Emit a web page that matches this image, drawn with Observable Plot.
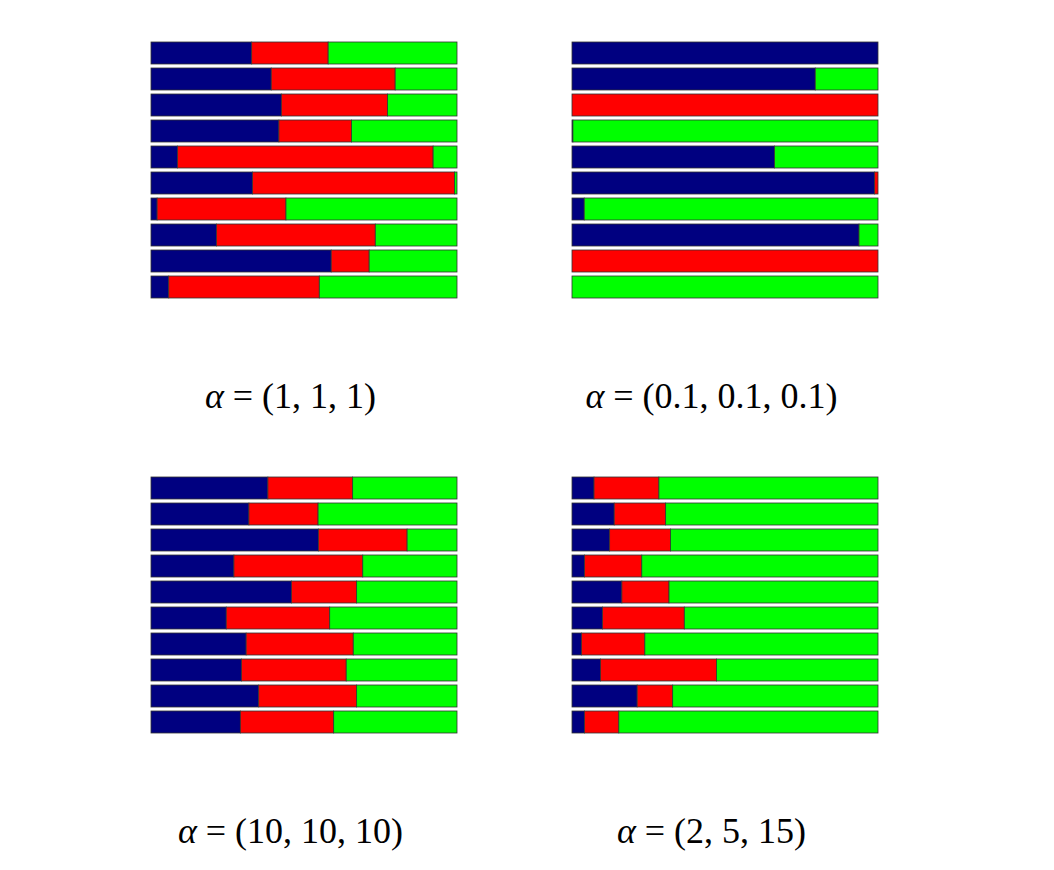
<!DOCTYPE html>
<html>
<head>
<meta charset="utf-8">
<script src="https://cdn.jsdelivr.net/npm/d3@7"></script>
<script src="https://cdn.jsdelivr.net/npm/@observablehq/plot@0.6"></script>
<style>
  html, body { margin: 0; padding: 0; background: #ffffff; }
  #chart { width: 1054px; height: 870px; }
</style>
</head>
<body>
<div id="chart"></div>
<script>
// Panel labels
const panelLabels = ["α = (1, 1, 1)", "α = (0.1, 0.1, 0.1)", "α = (10, 10, 10)", "α = (2, 5, 15)"];
const panelCols = ["left", "right", "left", "right"];
const panelRows = ["top", "top", "bottom", "bottom"];
const components = ["θ1", "θ2", "θ3"];
const componentColors = ["#000080", "#ff0000", "#00ff00"];

// α = (1, 1, 1)
const blueA  = [0.329, 0.393, 0.426, 0.418, 0.087, 0.332, 0.020, 0.214, 0.589, 0.058];
const redA   = [0.250, 0.405, 0.347, 0.237, 0.835, 0.660, 0.421, 0.519, 0.124, 0.492];
const greenA = [0.421, 0.202, 0.227, 0.345, 0.078, 0.008, 0.559, 0.267, 0.287, 0.450];

// α = (0.1, 0.1, 0.1)
const blueB  = [1.000, 0.795, 0.000, 0.003, 0.662, 0.989, 0.040, 0.938, 0.000, 0.000];
const redB   = [0.000, 0.000, 1.000, 0.000, 0.000, 0.011, 0.000, 0.000, 1.000, 0.000];
const greenB = [0.000, 0.205, 0.000, 0.997, 0.338, 0.000, 0.960, 0.062, 0.000, 1.000];

// α = (10, 10, 10)
const blueC  = [0.382, 0.320, 0.547, 0.271, 0.459, 0.246, 0.311, 0.296, 0.352, 0.292];
const redC   = [0.277, 0.226, 0.290, 0.421, 0.213, 0.338, 0.350, 0.342, 0.320, 0.305];
const greenC = [0.341, 0.454, 0.163, 0.308, 0.328, 0.416, 0.339, 0.362, 0.328, 0.403];

// α = (2, 5, 15)
const blueD  = [0.072, 0.138, 0.123, 0.041, 0.163, 0.100, 0.031, 0.093, 0.213, 0.041];
const redD   = [0.212, 0.168, 0.199, 0.187, 0.154, 0.267, 0.207, 0.379, 0.116, 0.112];
const greenD = [0.716, 0.694, 0.678, 0.772, 0.683, 0.633, 0.762, 0.528, 0.671, 0.847];

const sampleRows = [1, 2, 3, 4, 5, 6, 7, 8, 9, 10];

const panelSeries = [
  [blueA, redA, greenA],
  [blueB, redB, greenB],
  [blueC, redC, greenC],
  [blueD, redD, greenD]
];

const bars = [];
panelSeries.forEach((series, p) => {
  sampleRows.forEach((r, i) => {
    components.forEach((c, k) => {
      bars.push({panel: panelLabels[p], col: panelCols[p], prow: panelRows[p], sample: r, comp: c, value: series[k][i]});
    });
  });
});

const labels = panelLabels.map((t, p) => ({label: t, col: panelCols[p], prow: panelRows[p]}));

const chart = Plot.plot({
  width: 1054,
  height: 870,
  marginLeft: 150,
  marginRight: 175,
  marginTop: 40,
  marginBottom: 135,
  style: {background: "#ffffff", overflow: "visible"},
  fx: {domain: ["left", "right"], paddingInner: 0.2725, paddingOuter: 0, axis: null},
  fy: {domain: ["top", "bottom"], paddingInner: 0.4023, paddingOuter: 0, axis: null},
  x: {domain: [0, 1], axis: null},
  y: {domain: sampleRows, paddingInner: 0.1538, paddingOuter: 0, axis: null},
  color: {type: "ordinal", domain: components, range: componentColors},
  marks: [
    Plot.barX(bars, Plot.stackX({
      x: "value", y: "sample", fill: "comp", fx: "col", fy: "prow",
      order: null, stroke: "#333333", strokeWidth: 0.8
    })),
    Plot.text(labels, {
      fx: "col", fy: "prow", text: "label",
      frameAnchor: "bottom", lineAnchor: "bottom", textAnchor: "middle",
      dx: -14, dy: 107,
      fontSize: 36, fontFamily: "Liberation Serif", fill: "#000000"
    })
  ]
});

document.getElementById("chart").appendChild(chart);

// italicize the α in each label
chart.querySelectorAll("text").forEach(el => {
  const s = el.textContent;
  if (s.startsWith("α")) {
    el.textContent = "";
    const a = document.createElementNS("http://www.w3.org/2000/svg", "tspan");
    a.setAttribute("font-style", "italic");
    a.textContent = "α";
    const rest = document.createElementNS("http://www.w3.org/2000/svg", "tspan");
    rest.textContent = s.slice(1);
    el.appendChild(a);
    el.appendChild(rest);
  }
});
</script>
</body>
</html>
